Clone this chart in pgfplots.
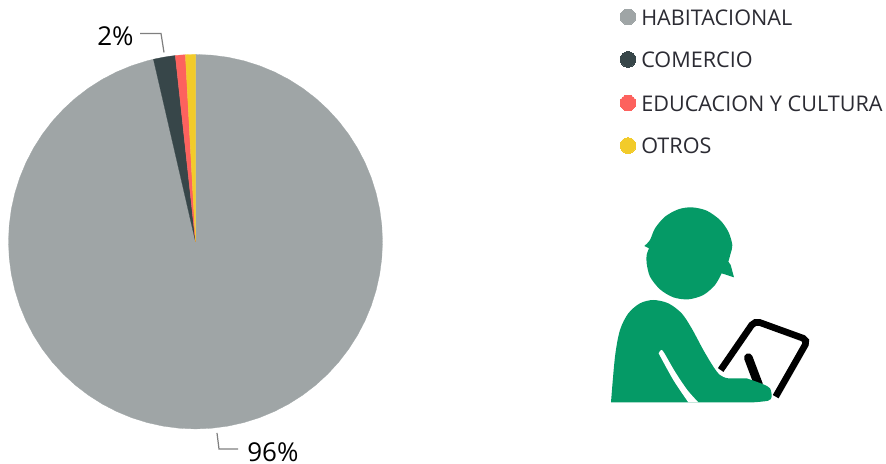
\documentclass[border=0pt]{standalone}
\usepackage{pgfplots}
\pgfplotsset{compat=1.18}
\usepackage{fontspec}
\setmainfont{Open Sans}
\definecolor{cGrey}{HTML}{9FA5A6}
\definecolor{cDark}{HTML}{374649}
\definecolor{cRed}{HTML}{FD625E}
\definecolor{cYel}{HTML}{F2CB2A}
\definecolor{cGreen}{HTML}{059A66}
\definecolor{cText}{HTML}{2B2B33}
\definecolor{cLead}{HTML}{7F7F7F}
\begin{document}
\begin{tikzpicture}
\path[use as bounding box] (0,0) rectangle (664.5pt,348pt);
% Pie: polar coordinates (angle, radius) about the pie centre
\begin{axis}[at={(0,0)},anchor=south west,scale only axis,width=664.5pt,height=348pt,
  xmin=-195.5,xmax=690.5,ymin=-222,ymax=242,hide axis,clip=false]
\addplot[fill=cGrey,draw=cGrey,line width=0.2pt,data cs=polar] coordinates {
(0,0)(90,187)(85,187)(80,187)(75,187)(70,187)(65,187)(60,187)(55,187)(50,187)(45,187)(40,187)(35,187)(30,187)(25,187)(20,187)(15,187)(10,187)(5,187)(0,187)
(-5,187)(-10,187)(-15,187)(-20,187)(-25,187)(-30,187)(-35,187)(-40,187)(-45,187)(-50,187)(-55,187)(-60,187)(-65,187)(-70,187)(-75,187)(-80,187)(-85,187)(-90,187)
(-95,187)(-100,187)(-105,187)(-110,187)(-115,187)(-120,187)(-125,187)(-130,187)(-135,187)(-140,187)(-145,187)(-150,187)(-155,187)(-160,187)(-165,187)(-170,187)(-175,187)(-180,187)
(-185,187)(-190,187)(-195,187)(-200,187)(-205,187)(-210,187)(-215,187)(-220,187)(-225,187)(-230,187)(-235,187)(-240,187)(-245,187)(-250,187)(-255,187)(-257,187)(0,0)} -- cycle;
\addplot[fill=cDark,draw=cDark,line width=0.2pt,data cs=polar] coordinates {(0,0)(96.2,187)(98,187)(100,187)(103,187)(0,0)} -- cycle;
\addplot[fill=cRed,draw=cRed,line width=0.2pt,data cs=polar] coordinates {(0,0)(93.1,187)(94.5,187)(96.2,187)(0,0)} -- cycle;
\addplot[fill=cYel,draw=cYel,line width=0.2pt,data cs=polar] coordinates {(0,0)(90,187)(91.5,187)(93.1,187)(0,0)} -- cycle;
\end{axis}
% Overlay in image pixel coordinates
\begin{axis}[at={(0,0)},anchor=south west,scale only axis,width=664.5pt,height=348pt,
  xmin=0,xmax=886,ymin=0,ymax=464,y dir=reverse,hide axis,clip=false]
\addplot[cLead,line width=0.9pt] coordinates {(140,34)(161,34)(164,53)};
\addplot[cLead,line width=0.9pt] coordinates {(217,433)(219,449)(238,449)};
\addplot[only marks,mark=*,mark size=5.9pt,mark options={draw=cGrey,fill=cGrey,line width=0pt}] coordinates {(628,17.5)};
\addplot[only marks,mark=*,mark size=5.9pt,mark options={draw=cDark,fill=cDark,line width=0pt}] coordinates {(628,60)};
\addplot[only marks,mark=*,mark size=5.9pt,mark options={draw=cRed,fill=cRed,line width=0pt}] coordinates {(628,103.5)};
\addplot[only marks,mark=*,mark size=5.9pt,mark options={draw=cYel,fill=cYel,line width=0pt}] coordinates {(628,146)};
\node[anchor=west,inner sep=0pt,text=cText,font=\fontsize{16.2}{16.2}\selectfont] at (axis cs:641,18.5) {HABITACIONAL};
\node[anchor=west,inner sep=0pt,text=cText,font=\fontsize{16.2}{16.2}\selectfont] at (axis cs:641,60.5) {COMERCIO};
\node[anchor=west,inner sep=0pt,text=cText,font=\fontsize{16.2}{16.2}\selectfont] at (axis cs:641,104.5) {EDUCACION Y CULTURA};
\node[anchor=west,inner sep=0pt,text=cText,font=\fontsize{16.2}{16.2}\selectfont] at (axis cs:641,146.5) {OTROS};
\node[anchor=west,inner sep=0pt,text=black,font=\fontsize{19.5}{19.5}\selectfont] at (axis cs:97,37) {2\%};
\node[anchor=west,inner sep=0pt,text=black,font=\fontsize{19.5}{19.5}\selectfont] at (axis cs:247,452) {96\%};
\end{axis}
% Person icon, traced; units are 1/3 pixel from image point (600,190)
\begin{scope}[shift={(450pt,205.5pt)},x=0.25pt,y=-0.25pt]
\draw[black,line width=5pt,rounded corners=4pt] (362,540)--(464,392)--(624,450)--(527,620);
\draw[black,line width=6.5pt,line cap=round] (445,503)--(476,585);
\fill[cGreen] plot[smooth] coordinates {(133,168)(150,150)(165,115)(195,80)(235,58)(275,52)(320,62)(360,90)(385,125)(397,165)(392,190)(385,215)}
  -- (392,225) -- (402,262) -- (365,250)
  -- plot[smooth] coordinates {(365,250)(345,285)(310,315)(265,328)(220,322)(180,298)(150,260)(140,220)(140,195)(147,175)} -- cycle;
\fill[cGreen] (33,637) -- plot[smooth] coordinates {(33,637)(45,500)(60,420)(85,370)(120,340)(160,330)(205,340)(245,370)(275,415)(310,480)(340,530)(360,555)(385,565)(440,565)(455,570)(490,583)(510,595)(515,620)(505,632)(460,637)} -- cycle;
\fill[white] plot[smooth] coordinates {(176,490)(183,480)(192,488)(225,545)(262,600)(295,637)} -- (265,637) -- plot[smooth] coordinates {(265,637)(220,570)(176,490)} -- cycle;
\end{scope}
\end{tikzpicture}
\end{document}
